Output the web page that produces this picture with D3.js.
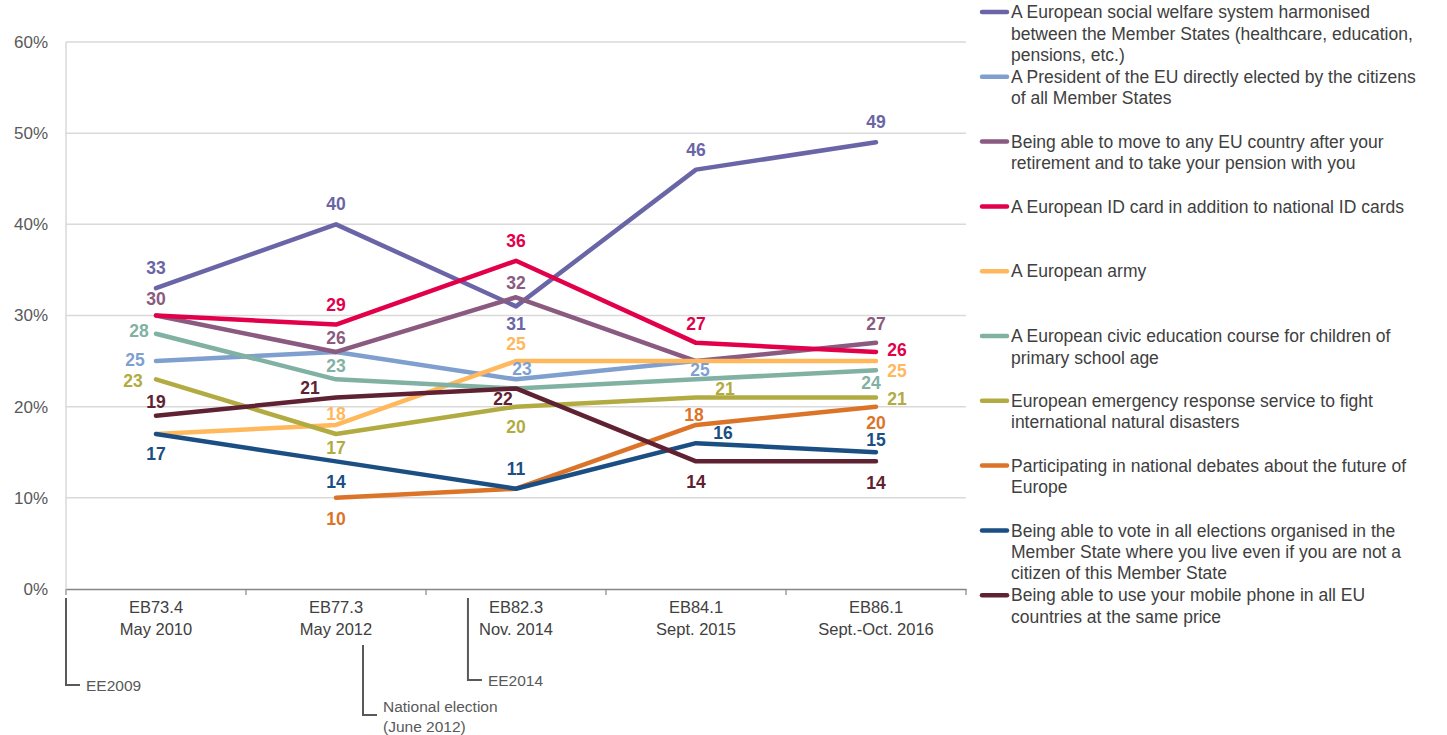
<!DOCTYPE html>
<html><head><meta charset="utf-8">
<script src="https://cdn.jsdelivr.net/npm/d3@7"></script>
<style>
html,body{margin:0;padding:0;background:#fff;}
svg{display:block;font-family:"Liberation Sans",Arial,sans-serif;}
</style></head>
<body>
<svg id="chart" width="1447" height="735"></svg>
<script>
// ---------- DATA ----------
const categories = [["EB73.4","May 2010"],["EB77.3","May 2012"],["EB82.3","Nov. 2014"],["EB84.1","Sept. 2015"],["EB86.1","Sept.-Oct. 2016"]];
const yTicks = [0,10,20,30,40,50,60];
const seriesNames = [
  ["A European social welfare system harmonised","between the Member States (healthcare, education,","pensions, etc.)"],
  ["A President of the EU directly elected by the citizens","of all Member States"],
  ["Being able to move to any EU country after your","retirement and to take your pension with you"],
  ["A European ID card in addition to national ID cards"],
  ["A European army"],
  ["A European civic education course for children of","primary school age"],
  ["European emergency response service to fight","international natural disasters"],
  ["Participating in national debates about the future of","Europe"],
  ["Being able to vote in all elections organised in the","Member State where you live even if you are not a","citizen of this Member State"],
  ["Being able to use your mobile phone in all EU","countries at the same price"]
];
const welfare   = [33,40,31,46,49];
const president = [25,26,23,25,null];
const retire    = [30,26,32,25,27];
const idCard    = [30,29,36,27,26];
const army      = [17,18,25,25,25];
const civic     = [28,23,22,23,24];
const emergency = [23,17,20,21,21];
const debates   = [null,10,11,18,20];
const vote      = [17,14,11,16,15];
const mobile    = [19,21,22,14,14];
// which points carry a visible label (1 = shown)
const labelShown = [
  [1,1,1,1,1],[1,0,1,1,0],[1,1,1,0,1],[0,1,1,1,1],[0,1,1,0,1],
  [1,1,0,0,1],[1,1,1,1,1],[0,1,0,1,1],[1,1,1,1,1],[1,1,1,1,1]
];
// annotations: position in category index units, text lines
const annotations = [
  {pos:-0.5, lines:["EE2009"]},
  {pos:1.15, lines:["National election","(June 2012)"]},
  {pos:1.733, lines:["EE2014"]}
];

// ---------- STYLE / LAYOUT ----------
const colors = ["#6a65a6","#7f9fcf","#8a5a80","#e2004a","#ffb85c","#80b1a2","#b2ab42","#db7428","#1b4f83","#5f2232"];
// label offsets [dx,dy] from point (layout only)
const labelOffsets = [
  [[0,-20],[0,-20],[0,17],[0,-20],[0,-20]],
  [[-21,-1],[0,0],[6,-10],[4,9],[0,0]],
  [[0,-17],[0,-14],[0,-14],[0,0],[0,-19]],
  [[0,0],[0,-20],[0,-20],[0,-19],[21,-2]],
  [[0,0],[0,-11],[0,-17],[0,0],[21,10]],
  [[-17,-3],[0,-13],[0,0],[0,0],[-5,13]],
  [[-23,2],[0,14],[0,20],[29,-9],[21,1]],
  [[0,0],[0,21],[0,0],[-2,-10],[0,16]],
  [[0,20],[0,21],[0,-20],[27,-10],[0,-12]],
  [[0,-14],[-26,-10],[-13,10],[0,21],[0,22]]
];

const allSeries = [welfare,president,retire,idCard,army,civic,emergency,debates,vote,mobile];

const svg = d3.select("#chart");
const pLeft = 66, pRight = 966, pTop = 42, pBottom = 589;

const x = d3.scaleBand().domain(d3.range(categories.length)).range([pLeft,pRight]);
const xc = i => x(i) + x.bandwidth()/2;
const xpos = p => pLeft + (p + 0.5) * x.bandwidth();
const y = d3.scaleLinear().domain([0,60]).range([pBottom,pTop]);

// gridlines
svg.append("g").selectAll("line").data(yTicks.filter(d=>d>0)).join("line")
  .attr("x1",pLeft).attr("x2",pRight).attr("y1",d=>y(d)).attr("y2",d=>y(d))
  .attr("stroke","#d9d9d9").attr("stroke-width",1.5);
// y axis line
svg.append("line").attr("x1",pLeft).attr("x2",pLeft).attr("y1",y(60)).attr("y2",pBottom)
  .attr("stroke","#d9d9d9").attr("stroke-width",1.5);
// y tick labels
svg.append("g").selectAll("text").data(yTicks).join("text")
  .attr("x",48).attr("y",d=>y(d)).attr("dy","0.35em").attr("text-anchor","end")
  .attr("font-size",17).attr("fill","#595959").text(d=>d+"%");

// x axis
const xAxis = d3.axisBottom(x).tickSize(0).tickFormat(()=>"");
const gx = svg.append("g").attr("transform",`translate(0,${pBottom})`).call(xAxis);
gx.select(".domain").attr("stroke","#868686").attr("stroke-width",1.5);
// boundary ticks
svg.append("g").selectAll("line").data(d3.range(categories.length+1)).join("line")
  .attr("x1",d=>pLeft+d*x.bandwidth()).attr("x2",d=>pLeft+d*x.bandwidth())
  .attr("y1",pBottom).attr("y2",pBottom+6).attr("stroke","#868686").attr("stroke-width",1.2);
// category labels
svg.append("g").selectAll("text").data(categories).join("text")
  .attr("x",(d,i)=>xc(i)).attr("y",613).attr("text-anchor","middle")
  .attr("font-size",16.5).attr("fill","#404040")
  .each(function(d,i){
    d.forEach((t,k)=>d3.select(this).append("tspan").attr("x",xc(i)).attr("dy",k?22:0).text(t));
  });

// annotations
const annY = [[598,685,691],[645,715,712],[598,680,686]];
annotations.forEach((a,i)=>{
  const ax = xpos(a.pos);
  const [y0,y1,ty] = annY[i];
  svg.append("path").attr("d",`M${ax},${y0}V${y1}H${ax+14}`)
    .attr("fill","none").attr("stroke","#595959").attr("stroke-width",2);
  const t = svg.append("text").attr("x",ax+20).attr("y",ty).attr("font-size",15.5).attr("fill","#595959");
  a.lines.forEach((l,k)=>t.append("tspan").attr("x",ax+20).attr("dy",k?20:0).text(l));
});

// lines
const lineGen = arr => d3.line().defined(d=>d.v!=null).x(d=>xc(d.i)).y(d=>y(d.v))(arr.map((v,i)=>({v,i})));
svg.append("g").selectAll("path").data(allSeries).join("path")
  .attr("d",d=>lineGen(d)).attr("fill","none")
  .attr("stroke",(d,i)=>colors[i]).attr("stroke-width",4.5)
  .attr("stroke-linejoin","round").attr("stroke-linecap","round");

// data labels
const lg = svg.append("g");
allSeries.forEach((s,si)=>{
  s.forEach((v,i)=>{
    if(v==null || !labelShown[si][i]) return;
    const [dx,dy] = labelOffsets[si][i];
    lg.append("text").attr("x",xc(i)+dx).attr("y",y(v)+dy).attr("dy","0.35em")
      .attr("text-anchor","middle").attr("font-size",17.5).attr("font-weight","bold")
      .attr("fill",colors[si]).text(v);
  });
});

// legend
const legY0 = 12, legStep = 64.8, legLH = 21.4;
seriesNames.forEach((lines,i)=>{
  const cy = legY0 + i*legStep;
  svg.append("line").attr("x1",982).attr("x2",1007).attr("y1",cy).attr("y2",cy)
    .attr("stroke",colors[i]).attr("stroke-width",4.5).attr("stroke-linecap","round");
  const t = svg.append("text").attr("x",1011).attr("y",cy)
    .attr("font-size",17.5).attr("fill","#404040");
  lines.forEach((l,k)=>t.append("tspan").attr("x",1011).attr("dy",k?legLH:"0.35em").text(l));
});
</script>
</body></html>
